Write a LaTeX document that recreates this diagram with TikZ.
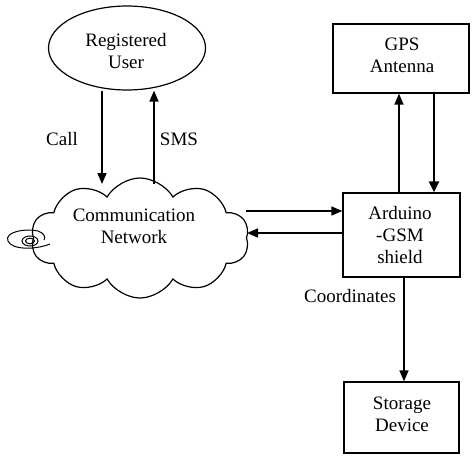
\documentclass[tikz,border=0pt]{standalone}
\usepackage{fontspec}
\setmainfont{Liberation Serif}
\usetikzlibrary{shapes.geometric,shapes.symbols,arrows.meta}
\begin{document}
\begin{tikzpicture}[x=1pt,y=-1pt,
  every node/.style={font=\fontsize{19}{22}\selectfont, align=center, inner sep=0pt},
  box/.style={draw, line width=1.3pt, rectangle},
  arr/.style={line width=1.6pt, -{Triangle[length=11pt,width=9pt]}},
  thickarr/.style={line width=2.6pt, -{Triangle[length=11pt,width=10pt]}}]
\useasboundingbox (0,0) rectangle (474,458);
% nodes
\node[draw, line width=1.2pt, ellipse, minimum width=157pt, minimum height=84pt] (user) at (127,48) {};
\node (usertxt) at (126,51) {Registered\\User};
\node[draw, line width=1.2pt, cloud, cloud puffs=10, cloud puff arc=120, aspect=1.8,
      minimum width=218pt, minimum height=120pt] (net) at (140,238) {};
\node (nettxt) at (134,226) {Communication\\Network};
\node[box, minimum width=136pt, minimum height=69pt] (gps) at (401,58.5) {};
\node (gpstxt) at (402,55) {GPS\\Antenna};
\node[box, minimum width=117pt, minimum height=84pt] (ard) at (401.5,235) {};
\node (ardtxt) at (400,235) {Arduino\\-GSM\\shield};
\node[box, minimum width=115pt, minimum height=71pt] (sto) at (401.5,417.5) {};
\node (stotxt) at (402,414) {Storage\\Device};
\node (call) at (62,139) {Call};
\node (sms) at (179,139) {SMS};
\node (coord) at (350,296) {Coordinates};
% helper coordinates
\coordinate (c1) at (102,184);
\coordinate (c2) at (154,184);
\coordinate (n1) at (246,211);
\coordinate (n2) at (247,233);
% spiral
\draw[line width=1pt] (50,244) .. controls (35,250) and (12,250) .. (8,241)
  .. controls (4,232) and (25,228) .. (38,231) .. controls (44,233) and (46,237) .. (44,240);
\draw[line width=1pt] (30,241) ellipse (8pt and 5pt);
\draw[line width=1pt] (30,241) ellipse (4.5pt and 2.8pt);
% connectors
\draw[arr] (user.south -| c1) -- (c1);
\draw[arr] (c2) -- (user.south -| c2);
\draw[arr] (n1) -- (ard.west |- n1);
\draw[arr] (ard.west |- n2) -- (n2);
\draw[arr] (ard.north -| 399,0) -- (gps.south -| 399,0);
\draw[thickarr] (gps.south -| 434,0) -- (ard.north -| 434,0);
\draw[arr] (ard.south -| 404,0) -- (sto.north -| 404,0);
\end{tikzpicture}
\end{document}
